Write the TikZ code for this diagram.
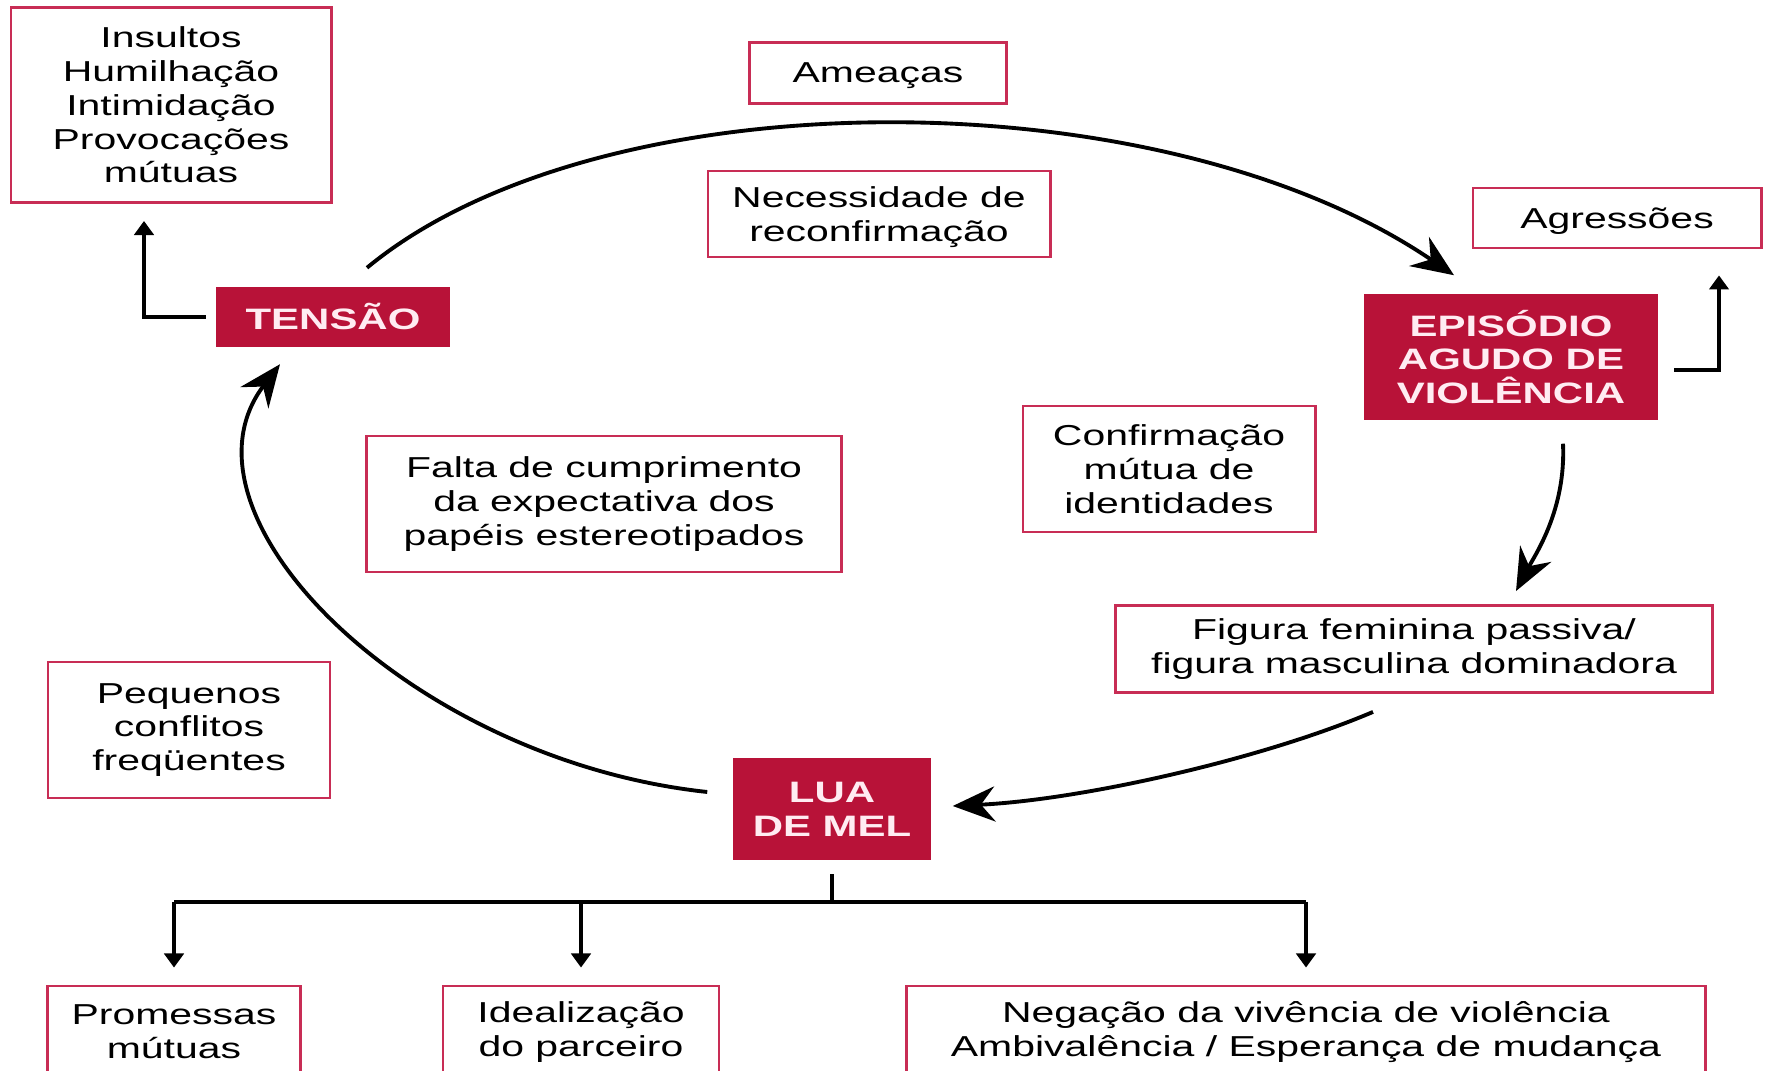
\documentclass[tikz,border=0pt]{standalone}
\usepackage{fontspec}
\setmainfont{Liberation Sans}[FakeStretch=1.42]
\usetikzlibrary{arrows.meta}
\definecolor{boxred}{RGB}{184,18,56}
\definecolor{boxline}{RGB}{200,45,85}
\definecolor{boxtext}{RGB}{255,236,242}
\tikzset{
  txtbox/.style={draw=boxline, line width=0.8pt, align=center, inner sep=0pt,
    font=\fontsize{8.2}{9.6}\selectfont},
  redbox/.style={fill=boxred, text=boxtext, align=center, inner sep=0pt,
    font=\fontsize{8.4}{9.6}\selectfont\bfseries},
  cyc/.style={line width=1.1pt, -{Stealth[length=12pt,width=10pt,inset=4pt]}},
  sidearrow/.style={line width=1.1pt, -{Triangle[length=4pt,width=5.5pt]}},
  treeline/.style={line width=1.1pt},
}
\begin{document}
\begin{tikzpicture}[x=0.01cm, y=-0.01cm]
      \useasboundingbox (0,0) rectangle (1767,1071);
      \draw
        (333,317) node[redbox, minimum width=2.33cm, minimum height=0.59cm] (tens){TENSÃO}
        (1511,357) node[redbox, minimum width=2.93cm, minimum height=1.26cm] (epis){EPISÓDIO\\AGUDO DE\\VIOLÊNCIA}
        (832,809) node[redbox, minimum width=1.98cm, minimum height=1.01cm] (lua){LUA\\DE MEL}
        (171,105) node[txtbox, minimum width=3.20cm, minimum height=1.95cm] (ins){Insultos\\Humilhação\\Intimidação\\Provocações\\mútuas}
        (878,73) node[txtbox, text depth=0pt, minimum width=2.57cm, minimum height=0.61cm] (ame){Ameaças}
        (879,214) node[txtbox, text depth=0pt, minimum width=3.42cm, minimum height=0.86cm] (nec){Necessidade de\\reconfirmação}
        (1617,218) node[txtbox, text depth=0pt, minimum width=2.88cm, minimum height=0.60cm] (agr){Agressões}
        (1169,469) node[txtbox, minimum width=2.92cm, minimum height=1.26cm] (conf){Confirmação\\mútua de\\identidades}
        (604,504) node[txtbox, minimum width=4.75cm, minimum height=1.36cm] (falta){Falta de cumprimento\\da expectativa dos\\papéis estereotipados}
        (1414,649) node[txtbox, minimum width=5.97cm, minimum height=0.87cm] (fig){Figura feminina passiva/\\figura masculina dominadora}
        (189,730) node[txtbox, minimum width=2.82cm, minimum height=1.36cm] (peq){Pequenos\\conflitos\\freqüentes}
        (174,1032) node[txtbox, minimum width=2.53cm, minimum height=0.92cm] (prom){Promessas\\mútuas}
        (581,1032) node[txtbox, minimum width=2.76cm, minimum height=0.92cm] (ideal){Idealização\\do parceiro}
        (1306,1032) node[txtbox, minimum width=7.98cm, minimum height=0.92cm] (neg){Negação da vivência de violência\\Ambivalência / Esperança de mudança};
      \coordinate (bar) at (832,902);
      % the cycle
      \begin{scope}[cyc]
        \draw ([shift={(34,-19)}]tens.north) .. controls (600,75) and (1160,75) .. ([shift={(-57,-18)}]epis.north);
        \draw ([shift={(52,23)}]epis.south) .. controls (1566,510) and (1535,555) .. ([shift={(102,-13)}]fig.north);
        \draw ([shift={(-41,18)}]fig.south) .. controls (1260,760) and (1080,800) .. ([shift={(21,-3)}]lua.east);
        \draw ([shift={(-25,-17)}]lua.west) .. controls (410,760) and (165,515) .. ([shift={(-53,17)}]tens.south);
      \end{scope}
      \begin{scope}[sidearrow]
        \draw ([shift={(-10,0)}]tens.west) -| ([shift={(-27,17)}]ins.south);
        \draw ([shift={(16,13)}]epis.east) -| ([shift={(102,26)}]agr.south);
      \end{scope}
      \draw[treeline] ([shift={(0,14)}]lua.south) -- (bar);
      \draw[treeline] (bar -| prom) -- (bar -| neg);
      \begin{scope}[sidearrow]
        \draw (bar -| prom) -- ([shift={(0,-17)}]prom.north);
        \draw (bar -| ideal) -- ([shift={(0,-17)}]ideal.north);
        \draw (bar -| neg) -- ([shift={(0,-17)}]neg.north);
      \end{scope}
    \end{tikzpicture}
\end{document}
